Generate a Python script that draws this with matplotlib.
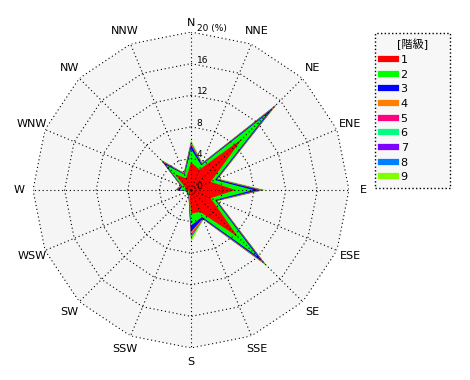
import matplotlib
matplotlib.use('Agg')
import matplotlib.pyplot as plt
import numpy as np
from matplotlib.lines import Line2D

plt.rcParams['font.family'] = ['DejaVu Sans', 'Noto Sans CJK JP']

# 16 directions, clockwise from N
directions = ['N', 'NNE', 'NE', 'ENE', 'E', 'ESE', 'SE', 'SSE',
              'S', 'SSW', 'SW', 'WSW', 'W', 'WNW', 'NW', 'NNW']

class_labels = ['1', '2', '3', '4', '5', '6', '7', '8', '9']
class_colors = ['#FF0000', '#00FF00', '#0000FF', '#FF8000', '#FF0080',
                '#00FF80', '#8000FF', '#0080FF', '#80FF00']

# frequency (%) per class, one value per direction
c1 = [3.5, 2.8, 9.2, 2.7, 5.6, 2.7, 8.4, 3.0, 3.0, 0.5, 0.4, 0.3, 0.8, 0.8, 2.8, 1.6]
c2 = [1.7, 0.6, 4.5, 0.6, 2.3, 0.6, 3.5, 0.7, 1.5, 0.2, 0.2, 0.1, 0.6, 0.4, 1.7, 0.5]
c3 = [0.5, 0.15, 0.9, 0.2, 0.8, 0.15, 0.9, 0.2, 0.8, 0.05, 0.1, 0.05, 0.4, 0.1, 0.5, 0.1]
c4 = [0.15, 0.05, 0.3, 0.05, 0.2, 0.05, 0.25, 0.05, 0.3, 0.02, 0.02, 0.0, 0.05, 0.05, 0.15, 0.05]
c5 = [0.1, 0.05, 0.2, 0.05, 0.15, 0.05, 0.2, 0.05, 0.2, 0.02, 0.02, 0.0, 0.05, 0.05, 0.1, 0.05]
c6 = [0.05, 0.0, 0.1, 0.0, 0.05, 0.0, 0.05, 0.0, 0.1, 0.0, 0.0, 0.0, 0.0, 0.0, 0.05, 0.0]
c7 = [0.0, 0.0, 0.05, 0.0, 0.0, 0.0, 0.05, 0.0, 0.05, 0.0, 0.0, 0.0, 0.0, 0.0, 0.0, 0.0]
c8 = [0.05, 0.0, 0.05, 0.0, 0.05, 0.0, 0.05, 0.0, 0.15, 0.0, 0.0, 0.0, 0.0, 0.0, 0.05, 0.0]
c9 = [0.3, 0.15, 0.3, 0.2, 0.3, 0.15, 0.4, 0.1, 0.5, 0.06, 0.06, 0.05, 0.1, 0.1, 0.25, 0.1]

ring_values = [4, 8, 12, 16, 20]

values = np.array([c1, c2, c3, c4, c5, c6, c7, c8, c9])
cum = np.cumsum(values, axis=0)

theta = np.deg2rad(np.arange(len(directions)) * 22.5)
theta_c = np.append(theta, theta[0])


def closed(a):
    return np.append(a, a[0])


fig = plt.figure(figsize=(4.7, 3.8), dpi=100)
ax = fig.add_axes([0.0702, 0.0842, 0.6723, 0.8316], projection='polar')
ax.set_theta_zero_location('N')
ax.set_theta_direction(-1)
ax.set_ylim(0, 20)
ax.set_axis_off()

# grey plot area (16-gon)
ax.fill(theta_c, [20] * 17, color='#F5F5F5', lw=0, zorder=0)

# stacked classes, outermost first
for k in range(len(class_labels) - 1, -1, -1):
    ax.fill(theta_c, closed(cum[k]), color=class_colors[k], lw=0, zorder=1)

# dotted polygon grid
dot = (0, (1, 2.5))
for r in ring_values:
    ax.plot(theta_c, [r] * 17, color='black', ls=dot, lw=0.8, zorder=3)
for t in theta:
    ax.plot([t, t], [0, 20], color='black', ls=dot, lw=0.8, zorder=3)

# direction names
for t, name in zip(theta, directions):
    r = 21.1 if name == 'N' else 21.8
    ax.text(t, r, name, ha='center', va='center', fontsize=8, zorder=4)

# radial labels
for r in ring_values:
    s = '20 (%)' if r == 20 else str(r)
    ax.annotate(s, xy=(0, r), xytext=(4, 2.5), textcoords='offset points',
                ha='left', va='center', fontsize=6.5, zorder=4)
ax.annotate('0', xy=(0, 0), xytext=(4, 2.5), textcoords='offset points',
            ha='left', va='center', fontsize=6.5, zorder=4)

handles = [Line2D([], [], color=c, lw=4.5) for c in class_colors]
leg = fig.legend(handles, class_labels, title='[階級]', loc='upper left',
                 bbox_to_anchor=(0.798, 0.913, 0.16, 0.0), mode='expand',
                 fontsize=8, title_fontsize=8, handlelength=1.4,
                 handletextpad=0.4, labelspacing=0.42, borderpad=0.5,
                 fancybox=False, framealpha=1, borderaxespad=0)
leg.get_frame().set_linestyle(':')
leg.get_frame().set_edgecolor('black')
leg.get_frame().set_facecolor('#F7F7F7')

fig.savefig('out.png', dpi=100)
